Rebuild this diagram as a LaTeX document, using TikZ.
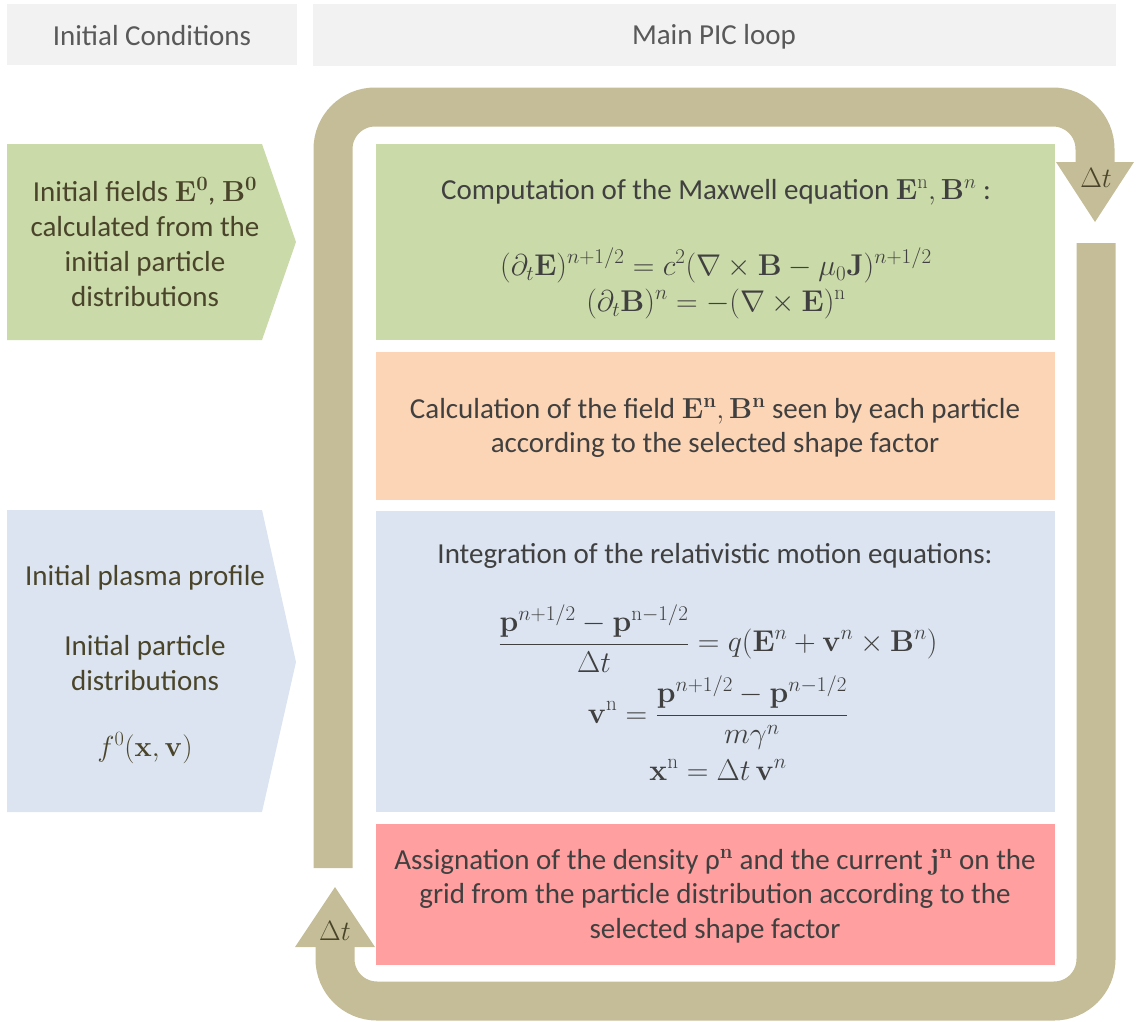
\RequirePackage{fix-cm}
\documentclass[tikz,border=0pt]{standalone}
\usepackage{amsmath}
\usepackage[no-math]{fontspec}
\setmainfont{Carlito}
\definecolor{hdr}{RGB}{242,242,242}
\definecolor{grn}{RGB}{202,218,168}
\definecolor{org}{RGB}{251,213,181}
\definecolor{blu}{RGB}{219,228,240}
\definecolor{rd}{RGB}{255,159,159}
\definecolor{loopc}{RGB}{196,189,151}
\definecolor{txt}{RGB}{64,64,64}
\definecolor{oliv}{RGB}{74,69,42}
\definecolor{hdrtxt}{RGB}{89,89,89}
\begin{document}
\begin{tikzpicture}[x=1pt,y=-1pt,
  hdrbox/.style={fill=hdr, draw=none, anchor=north west, inner sep=0pt},
  mainbox/.style={draw=none, anchor=north west, inner sep=0pt, minimum width=679pt},
  lbl/.style={text=txt, align=center, inner sep=0pt, font=\fontsize{29}{34.5}\selectfont},
  eqn/.style={text=txt, align=center, inner sep=0pt, font=\fontsize{30}{36}\selectfont},
  llbl/.style={text=oliv, align=center, inner sep=0pt, font=\fontsize{29}{35}\selectfont},
  hlbl/.style={text=hdrtxt, inner sep=0pt, font=\fontsize{29}{35}\selectfont},
  loopband/.style={draw=loopc, line width=39pt, rounded corners=42pt},
  tip/.style={fill=loopc, draw=none}]
\useasboundingbox (0,0) rectangle (1138,1021);

% header boxes
\node[hdrbox, minimum width=290pt, minimum height=61pt] (hic) at (7,4) {};
\node[hdrbox, minimum width=803pt, minimum height=62pt] (hmain) at (313,4) {};
\node[hlbl] (hict) at (152,36) {Initial Conditions};
\node[hlbl] (hmaint) at (714,37) {Main PIC loop};

% loop band
\draw[loopband] (333,868) -- (333,107) -- (1095,107) -- (1095,162.5);
\fill[tip] (1056,162) -- (1134,162) -- (1095,222) -- cycle;
\draw[loopband] (1096,243) -- (1096,1001) -- (335,1001) -- (335,946.5);
\fill[tip] (295,947) -- (375,947) -- (335,887) -- cycle;
\node[text=oliv, font=\fontsize{28}{30}\selectfont, inner sep=0pt] (dt1) at (1096,178) {$\Delta t$};
\node[text=oliv, font=\fontsize{28}{30}\selectfont, inner sep=0pt] (dt2) at (335,931) {$\Delta t$};

% left chevrons
\fill[grn] (7,144) -- (262,144) -- (296,242) -- (262,340) -- (7,340) -- cycle;
\fill[blu] (7,510) -- (262,510) -- (296,662) -- (262,812) -- (7,812) -- cycle;
\node[llbl] (initf) at (145,242) {Initial fields $\mathbf{E}^{\mathbf{0}}$, $\mathbf{B}^{\mathbf{0}}$\\calculated from the\\initial particle\\distributions};
\node[llbl] (plasma) at (145,578) {Initial plasma profile};
\node[llbl] (ipd) at (145,663) {Initial particle\\distributions};
\node[llbl] (f0) at (145,748) {$f^{0}(\mathbf{x},\mathbf{v})$};

% main boxes
\node[mainbox, fill=grn, minimum height=196pt] (maxw) at (376,144) {};
\node[mainbox, fill=org, minimum height=148pt] (field) at (376,352) {};
\node[mainbox, fill=blu, minimum height=301pt] (motion) at (376,511) {};
\node[mainbox, fill=rd, minimum height=141pt] (assign) at (376,824) {};

\node[lbl] (maxwt) at (716,192) {Computation of the Maxwell equation $\mathbf{E}^{\mathrm{n}},\mathbf{B}^{n}$ :};
\node[eqn] (maxwe) at (716,285) {$\begin{gathered}
(\partial_t\mathbf{E})^{n+1/2}=c^2(\nabla\times\mathbf{B}-\mu_0\mathbf{J})^{n+1/2}\\[-3pt]
(\partial_t\mathbf{B})^{n}=-(\nabla\times\mathbf{E})^{\mathrm{n}}
\end{gathered}$};
\node[lbl] (fieldt) at (715,428) {Calculation of the field $\mathbf{E}^{\mathbf{n}}, \mathbf{B}^{\mathbf{n}}$ seen by each particle\\according to the selected shape factor};
\node[lbl] (motiont) at (715,556) {Integration of the relativistic motion equations:};
\node[eqn] (motione) at (718,698) {$\displaystyle\begin{gathered}
\frac{\mathbf{p}^{n+1/2}-\mathbf{p}^{\mathrm{n}-1/2}}{\Delta t}=q(\mathbf{E}^{n}+\mathbf{v}^{n}\times\mathbf{B}^{n})\\[0pt]
\mathbf{v}^{\mathrm{n}}=\frac{\mathbf{p}^{n+1/2}-\mathbf{p}^{n-1/2}}{m\gamma^{n}}\\[2pt]
\mathbf{x}^{\mathrm{n}}=\Delta t\,\mathbf{v}^{n}
\end{gathered}$};
\node[lbl] (assignt) at (715,896) {Assignation of the density ρ$^{\mathbf{n}}$ and the current $\mathbf{j}^{\mathbf{n}}$ on the\\grid from the particle distribution according to the\\selected shape factor};
\end{tikzpicture}
\end{document}
